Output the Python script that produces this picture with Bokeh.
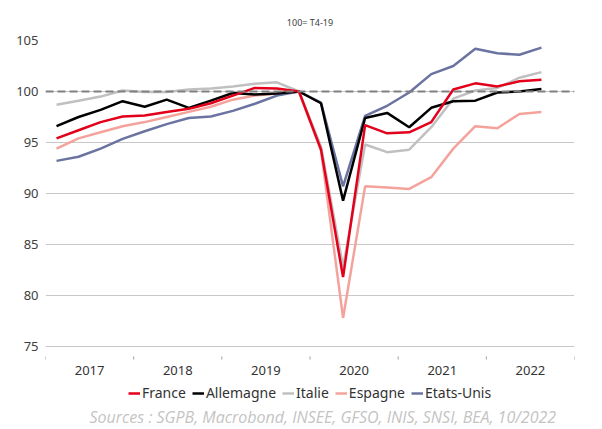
from bokeh.plotting import figure
from bokeh.models import FixedTicker, Span, Legend, LegendItem, Label, Range1d
from bokeh.core.properties import value
from bokeh.embed import file_html
from bokeh.resources import INLINE

years = ["2017", "2018", "2019", "2020", "2021", "2022"]
y_ticks = [75, 80, 85, 90, 95, 100, 105]

# Quarterly GDP index, 100 = Q4 2019 (2017Q1 .. 2022Q3)
france = [95.4, 96.2, 97.0, 97.55, 97.65, 98.0, 98.3, 98.85, 99.6, 100.35, 100.3, 100.0,
          94.3, 81.8, 96.7, 95.9, 96.0, 97.0, 100.2, 100.8, 100.5, 101.0, 101.15]
allemagne = [96.6, 97.5, 98.2, 99.05, 98.5, 99.2, 98.4, 99.1, 99.85, 99.7, 99.8, 100.0,
             98.85, 89.3, 97.4, 97.9, 96.5, 98.4, 99.05, 99.1, 99.9, 100.0, 100.25]
italie = [98.7, 99.1, 99.5, 100.1, 99.95, 99.95, 100.2, 100.3, 100.5, 100.75, 100.9, 100.0,
          94.6, 82.8, 94.8, 94.05, 94.3, 96.5, 99.3, 100.1, 100.35, 101.35, 101.9]
espagne = [94.4, 95.4, 96.0, 96.6, 97.0, 97.5, 98.0, 98.5, 99.2, 99.6, 99.8, 100.0,
           94.2, 77.8, 90.7, 90.6, 90.45, 91.6, 94.4, 96.6, 96.4, 97.8, 98.0]
etats_unis = [93.2, 93.6, 94.4, 95.35, 96.1, 96.8, 97.4, 97.55, 98.1, 98.8, 99.6, 100.0,
              98.9, 90.7, 97.6, 98.6, 99.9, 101.7, 102.5, 104.2, 103.75, 103.6, 104.3]

x = list(range(len(france)))

PX = 10.2  # pixels per index point
W, H = 600, 427
TOP, LEFT, RIGHT = 40, 45, 26
BOTTOM_PX = H - TOP - 306  # frame extends below the 75 line to hold axis labels/legend

p = figure(width=W, height=H, output_backend="svg", toolbar_location=None,
           x_range=Range1d(-0.5, 23.5),
           y_range=Range1d(75 - BOTTOM_PX / PX, 105),
           min_border_left=LEFT, min_border_right=RIGHT, min_border_top=TOP,
           min_border_bottom=0)
p.outline_line_color = None
p.background_fill_color = "white"
p.border_fill_color = "white"

p.title.text = "100= T4-19"
p.title.align = "center"
p.title.text_font = "Noto Sans"
p.title.text_font_size = "9px"
p.title.text_font_style = "normal"
p.title.text_color = "#404040"
p.title.standoff = 24

p.xaxis.visible = False
p.xgrid.visible = False
p.ygrid.grid_line_color = "#c8c8c8"
p.ygrid.grid_line_width = 1
p.ygrid.ticker = FixedTicker(ticks=y_ticks)
p.yaxis.ticker = FixedTicker(ticks=y_ticks)
p.yaxis.axis_line_color = None
p.yaxis.major_tick_line_color = None
p.yaxis.minor_tick_line_color = None
p.yaxis.major_tick_out = 0
p.yaxis.major_label_standoff = 7
p.yaxis.major_label_text_font = "Noto Sans"
p.yaxis.major_label_text_font_size = "13px"
p.yaxis.major_label_text_color = "#404040"

# category (year) axis drawn below the 75 gridline
centers = [1.5 + 4 * i for i in range(len(years))]
bounds = [-0.5 + 4 * i for i in range(len(years) + 1)]
y_min = y_ticks[0]
p.segment(x0=bounds, x1=bounds, y0=[y_min - 10 / PX] * len(bounds),
          y1=[y_min - 13 / PX] * len(bounds), line_color="#a0a0a0", line_width=1)
p.text(x=centers, y=[y_min - 24 / PX] * len(centers), text=years,
       text_font=value("Noto Sans"), text_font_size="13px", text_color="#333333",
       text_align="center", text_baseline="middle")

r_es = p.line(x, espagne, line_color="#f4a39c", line_width=2.5)
r_it = p.line(x, italie, line_color="#c0c0c0", line_width=2.5)
r_us = p.line(x, etats_unis, line_color="#6b73a0", line_width=2.5)
r_de = p.line(x, allemagne, line_color="#000000", line_width=2.5)
r_fr = p.line(x, france, line_color="#e2001a", line_width=2.5)

p.add_layout(Span(location=100, dimension="width", line_color="#808080",
                  line_dash="8 4", line_width=2))

legend = Legend(items=[LegendItem(label="France", renderers=[r_fr]),
                       LegendItem(label="Allemagne", renderers=[r_de]),
                       LegendItem(label="Italie", renderers=[r_it]),
                       LegendItem(label="Espagne", renderers=[r_es]),
                       LegendItem(label="Etats-Unis", renderers=[r_us])],
                orientation="horizontal", location=(83, 25),
                label_text_font="Noto Sans", label_text_font_size="14px",
                label_text_color="#333333", glyph_width=12, glyph_height=14,
                label_standoff=2, spacing=6, padding=0, margin=0,
                border_line_color=None, background_fill_alpha=0)
p.add_layout(legend)

src = Label(x=44, y=11, x_units="screen", y_units="screen",
            text="Sources : SGPB, Macrobond, INSEE, GFSO, INIS, SNSI, BEA, 10/2022",
            text_font="Open Sans", text_font_style="italic", text_font_size="16px",
            text_color="#c4c4c4", text_baseline="middle", text_align="left")
p.add_layout(src)

open("out.html", "w").write(file_html(p, INLINE))
